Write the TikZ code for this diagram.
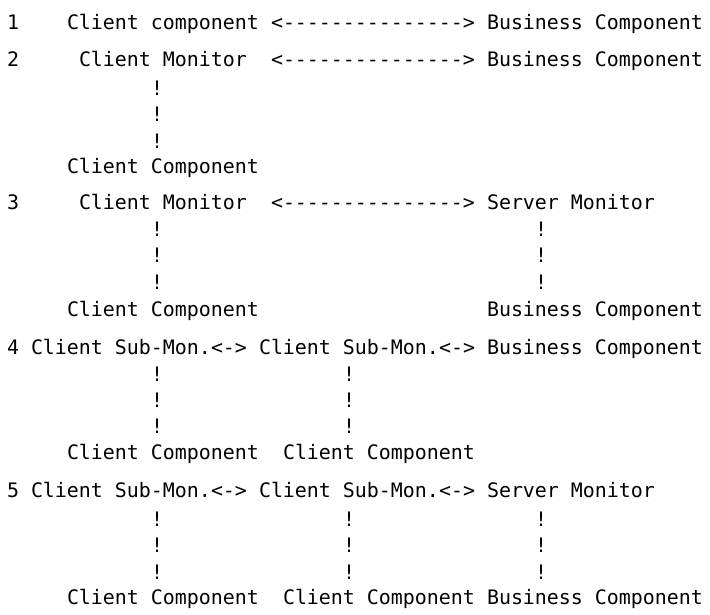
\documentclass[tikz,border=0pt]{standalone}
\usepackage{fontspec}
\setmonofont{DejaVu Sans Mono}
\newcommand\tcell[4]{\node[txt] (#1) at ({7+12*#2},{614-#3}) {#4};}
\begin{document}
\begin{tikzpicture}[x=1pt,y=1pt,
  txt/.style={anchor=base west, inner sep=0pt, outer sep=0pt,
    font=\ttfamily\fontsize{19.93}{24}\selectfont, text=black}]
\useasboundingbox (0,0) rectangle (710,614);
% row 1
\tcell{n1}{0}{30}{1}
\tcell{c1}{5}{30}{Client component}
\tcell{a1}{22}{30}{<--------------->}
\tcell{b1}{40}{30}{Business Component}
% row 2
\tcell{n2}{0}{67}{2}
\tcell{m2}{6}{67}{Client Monitor}
\tcell{a2}{22}{67}{<--------------->}
\tcell{b2}{40}{67}{Business Component}
\tcell{v2a}{12}{96}{!}
\tcell{v2b}{12}{122}{!}
\tcell{v2c}{12}{149}{!}
\tcell{c2}{5}{174}{Client Component}
% row 3
\tcell{n3}{0}{210}{3}
\tcell{m3}{6}{210}{Client Monitor}
\tcell{a3}{22}{210}{<--------------->}
\tcell{s3}{40}{210}{Server Monitor}
\tcell{v3a}{12}{237}{!}
\tcell{v3b}{12}{263}{!}
\tcell{v3c}{12}{290}{!}
\tcell{w3a}{44}{237}{!}
\tcell{w3b}{44}{263}{!}
\tcell{w3c}{44}{290}{!}
\tcell{c3}{5}{317}{Client Component}
\tcell{b3}{40}{317}{Business Component}
% row 4
\tcell{n4}{0}{355}{4}
\tcell{sa4}{2}{355}{Client Sub-Mon.}
\tcell{aa4}{17}{355}{<->}
\tcell{sb4}{21}{355}{Client Sub-Mon.}
\tcell{ab4}{36}{355}{<->}
\tcell{b4}{40}{355}{Business Component}
\tcell{v4a}{12}{382}{!}
\tcell{v4b}{12}{408}{!}
\tcell{v4c}{12}{434}{!}
\tcell{u4a}{28}{382}{!}
\tcell{u4b}{28}{408}{!}
\tcell{u4c}{28}{434}{!}
\tcell{ca4}{5}{459}{Client Component}
\tcell{cb4}{23}{459}{Client Component}
% row 5
\tcell{n5}{0}{497}{5}
\tcell{sa5}{2}{497}{Client Sub-Mon.}
\tcell{aa5}{17}{497}{<->}
\tcell{sb5}{21}{497}{Client Sub-Mon.}
\tcell{ab5}{36}{497}{<->}
\tcell{s5}{40}{497}{Server Monitor}
\tcell{v5a}{12}{526}{!}
\tcell{v5b}{12}{552}{!}
\tcell{v5c}{12}{579}{!}
\tcell{u5a}{28}{526}{!}
\tcell{u5b}{28}{552}{!}
\tcell{u5c}{28}{579}{!}
\tcell{w5a}{44}{526}{!}
\tcell{w5b}{44}{552}{!}
\tcell{w5c}{44}{579}{!}
\tcell{ca5}{5}{604}{Client Component}
\tcell{cb5}{23}{604}{Client Component}
\tcell{b5}{40}{604}{Business Component}
\end{tikzpicture}
\end{document}
